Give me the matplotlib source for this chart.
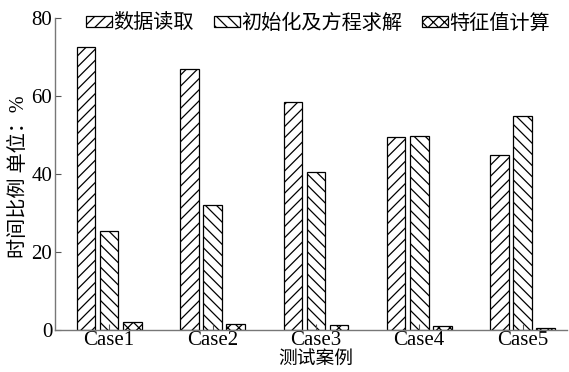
import numpy as np
import matplotlib
matplotlib.use("Agg")
import matplotlib.pyplot as plt

plt.rcParams['font.family'] = ['Liberation Serif', 'Noto Sans CJK SC']
plt.rcParams['hatch.linewidth'] = 0.9
plt.rcParams['axes.unicode_minus'] = False

# ── Data ─────────────────────────────────────────────────────────────────────
cases = ["Case1", "Case2", "Case3", "Case4", "Case5"]
read_data = [72.6, 66.8, 58.5, 49.4, 44.8]
init_solve = [25.5, 32.0, 40.4, 49.8, 54.8]
eigen_calc = [2.1, 1.5, 1.2, 0.9, 0.5]
series_names = ["数据读取", "初始化及方程求解", "特征值计算"]
yticks = [0, 20, 40, 60, 80]

# ── Plot ─────────────────────────────────────────────────────────────────────
fig = plt.figure(figsize=(5.69, 3.72), dpi=100)
ax = fig.add_axes([55 / 569, 42 / 372, 512 / 569, 312 / 372])

x = np.arange(len(cases))
width = 0.18
step = 0.223
hatches = ['///', '\\\\\\', 'xxx']
for i, (vals, name) in enumerate(zip([read_data, init_solve, eigen_calc], series_names)):
    ax.bar(x + (i - 1) * step, vals, width, facecolor='white', edgecolor='black',
           linewidth=0.9, hatch=hatches[i], label=name)

ax.set_xlim(-0.524, 4.43)
ax.set_ylim(0, 80)
ax.set_yticks(yticks)
ax.set_xticks(x)
ax.set_xticklabels(cases)
ax.tick_params(axis='both', direction='in', labelsize=15, length=4, width=0.8,
               color='#555555')
ax.tick_params(axis='x', pad=1)
ax.tick_params(axis='y', pad=2)

for side in ['top', 'right']:
    ax.spines[side].set_visible(False)
for side in ['left', 'bottom']:
    ax.spines[side].set_color('#777777')
    ax.spines[side].set_linewidth(1.0)

ax.set_xlabel("测试案例", fontsize=13.5)
ax.xaxis.set_label_coords(0.51, -0.066)
ax.set_ylabel("时间比例 单位：%", fontsize=14.5)
ax.yaxis.set_label_coords(-0.05, 0.49)

leg = ax.legend(loc='upper left', bbox_to_anchor=(0.045, 1.038), ncol=3, frameon=False,
                fontsize=14.5, handlelength=1.3, handleheight=0.45, handletextpad=0.05,
                columnspacing=1.0, borderaxespad=0)

fig.savefig("out.png", dpi=100)
